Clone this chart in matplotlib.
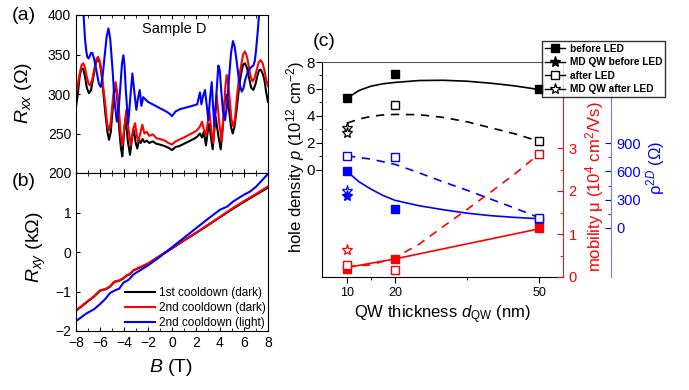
import matplotlib
matplotlib.use("Agg")
import matplotlib.pyplot as plt
from matplotlib.lines import Line2D

plt.rcParams['font.family'] = ['Liberation Sans', 'DejaVu Sans']
plt.rcParams['mathtext.fontset'] = 'custom'
plt.rcParams['mathtext.rm'] = 'Liberation Sans'
plt.rcParams['mathtext.it'] = 'Liberation Sans:italic'
plt.rcParams['mathtext.bf'] = 'Liberation Sans:bold'
plt.rcParams['lines.solid_joinstyle'] = 'round'

# ---------------- Panel (a): Rxx vs B ----------------
B_black = [-8.0, -7.85, -7.7, -7.55, -7.4, -7.25, -7.1, -6.92, -6.75, -6.55, -6.35, -6.17, -6.0, -5.85,
           -5.55, -5.38, -5.25, -5.1, -4.95, -4.82, -4.7, -4.58, -4.42, -4.26, -4.14,
           -3.98, -3.86, -3.68, -3.5, -3.3, -3.17, -3.02, -2.89, -2.75, -2.6, -2.45, -2.3, -2.1, -1.9, -1.6,
           -1.3, -1.0, -0.6, -0.3, 0.0, 0.3, 0.6, 1.0, 1.4, 1.8, 2.1, 2.33, 2.5, 2.65, 2.83, 3.0, 3.11, 3.25,
           3.39, 3.52, 3.64, 3.85, 4.06, 4.25, 4.38, 4.5, 4.62, 4.75, 4.92, 5.06, 5.2, 5.4, 5.6, 5.75, 5.92,
           6.08, 6.25, 6.4, 6.6, 6.78, 6.95, 7.1, 7.25, 7.39, 7.55, 7.7, 7.85, 8.0]
R_black = [284, 300, 322, 332, 332, 322, 308, 301, 305, 322, 339, 345, 339, 322,
           275, 252, 242, 252, 280, 302, 311, 300, 260, 232, 221,
           255, 270, 240, 223, 248, 254, 238, 231, 242, 238, 243, 239, 241, 238, 240,
           237, 236, 234, 232, 229, 233, 234, 237, 240, 243, 246, 250, 245, 252, 235, 255, 262, 245,
           230, 255, 271, 248, 230, 262, 288, 299, 295, 280, 258, 250, 258, 282, 310, 325, 337,
           339, 333, 322, 308, 305, 312, 322, 330, 331, 326, 318, 302, 290]

B_red = [-8.0, -7.85, -7.7, -7.55, -7.39, -7.25, -7.1, -6.95, -6.83, -6.65, -6.5, -6.33, -6.17, -6.03,
         -5.9, -5.7, -5.55, -5.4, -5.25, -5.1, -4.95, -4.82, -4.7, -4.58, -4.4, -4.27, -4.14, -3.8,
         -3.62, -3.44, -3.25, -3.08, -2.9, -2.8, -2.65, -2.47, -2.3, -2.1, -1.9, -1.6, -1.3, -1.0, -0.6, -0.3,
         0.0, 0.3, 0.7, 1.0, 1.5, 2.0, 2.3, 2.5, 2.65, 2.83, 3.11, 3.27, 3.44, 3.58, 3.72, 3.93, 4.14, 4.35,
         4.45, 4.56, 4.67, 4.8, 4.95, 5.11, 5.25, 5.4, 5.6, 5.75, 5.92, 6.08, 6.25, 6.4, 6.55, 6.72, 6.88,
         7.05, 7.22, 7.39, 7.55, 7.7, 7.85, 8.0]
R_red = [299, 312, 325, 336, 339, 333, 322, 313, 311, 318, 330, 343, 347, 342,
         330, 305, 285, 262, 254, 265, 290, 308, 315, 303, 275, 248, 235, 280,
         255, 235, 255, 263, 245, 240, 250, 261, 250, 252, 247, 249, 244, 243, 241, 238,
         236, 240, 243, 245, 249, 253, 258, 265, 255, 248, 278, 255, 238, 265, 299, 265, 240, 285,
         310, 324, 315, 295, 268, 259, 268, 295, 322, 335, 350, 354, 347, 335, 322, 316, 320,
         330, 340, 343, 339, 330, 318, 310]

B_blue = [-7.45, -7.35, -7.25, -7.15, -7.06, -6.95, -6.85, -6.75, -6.64, -6.5, -6.3, -6.1, -5.94, -5.8,
          -5.6, -5.45, -5.3, -5.15, -4.95, -4.78, -4.6, -4.45, -4.3, -4.17, -4.05, -3.95, -3.85, -3.65,
          -3.45, -3.3, -3.12, -2.97, -2.83, -2.69, -2.55, -2.4, -2.2, -2.0, -1.5, -1.0, -0.5, -0.2, 0.0,
          0.3, 0.7, 1.2, 1.7, 2.1, 2.33, 2.45, 2.6, 2.75, 2.9, 3.03, 3.17, 3.31, 3.42, 3.53, 3.7, 3.86,
          3.98, 4.1, 4.25, 4.42, 4.58, 4.75, 4.92, 5.08, 5.22, 5.4, 5.6, 5.81, 5.95, 6.1, 6.36, 6.6, 6.78,
          6.9, 7.0, 7.15, 7.25, 7.35]
R_blue = [430, 395, 370, 355, 347, 345, 348, 352, 352, 345, 330, 313, 309, 320,
          350, 372, 383, 370, 330, 290, 265, 280, 310, 338, 349, 335, 305, 262,
          300, 326, 300, 280, 295, 305, 285, 296, 293, 290, 286, 282, 278, 275, 272,
          278, 281, 283, 285, 287, 302, 287, 298, 305, 285, 267, 295, 315, 285, 259, 300, 336,
          330, 305, 278, 267, 285, 320, 352, 367, 360, 340, 315, 303, 307, 318, 330, 334, 336,
          342, 355, 380, 400, 430]

# ---------------- Panel (b): Rxy vs B ----------------
B_xy_red = [-8, -7.1, -6.5, -6, -5.5, -5.17, -4.9, -4.75, -4.4, -4.06, -3.78, -3.5, -3.22, -2, -1, 0,
            1, 2, 3, 4, 5, 6, 7, 8]
Rxy_red = [-1.48, -1.26, -1.12, -0.97, -0.93, -0.87, -0.78, -0.74, -0.72, -0.66, -0.59, -0.55, -0.46,
           -0.29, -0.09, 0.10, 0.30, 0.49, 0.69, 0.89, 1.10, 1.29, 1.47, 1.66]
B_xy_black = [-8, -7.1, -6.5, -6, -5.5, -5.17, -4.9, -4.75, -4.4, -4.06, -3.78, -3.5, -3.22, -2, -1, 0,
              1, 2, 3, 4, 5, 6, 7, 8]
Rxy_black = [-1.49, -1.27, -1.13, -0.98, -0.94, -0.88, -0.79, -0.75, -0.73, -0.67, -0.60, -0.56, -0.47,
             -0.30, -0.10, 0.09, 0.29, 0.48, 0.68, 0.88, 1.08, 1.27, 1.45, 1.63]
B_xy_blue = [-8, -7.1, -6.5, -6, -5.5, -5.17, -4.75, -4.4, -4.06, -3.6, -3.22, -2, -1, 0, 1, 2, 3, 4,
             4.6, 5.1, 6, 6.5, 7, 8]
Rxy_blue = [-1.75, -1.55, -1.45, -1.32, -1.17, -1.04, -0.97, -0.93, -0.78, -0.70, -0.57, -0.34, -0.12,
            0.12, 0.36, 0.60, 0.84, 1.07, 1.15, 1.28, 1.45, 1.53, 1.65, 1.98]
legend_b = ["1st cooldown (dark)", "2nd cooldown (dark)", "2nd cooldown (light)"]

# ---------------- Panel (c) ----------------
d = [10, 20, 50]
p_before = [5.3, 7.1, 6.0]
d_after = [20, 50]
p_after = [4.8, 2.1]
d_star_p = [10, 10]
p_star_after = [3.1, 2.7]

d_fit = [10, 12.5, 15, 17.5, 20, 25, 30, 35, 40, 45, 50]
p_fit_before = [5.3, 5.88, 6.2, 6.38, 6.48, 6.62, 6.64, 6.57, 6.42, 6.22, 5.95]
p_fit_after = [3.45, 3.75, 3.95, 4.06, 4.1, 4.08, 3.88, 3.55, 3.1, 2.65, 2.1]

mu_before = [0.19, 0.42, 1.13]
mu_after = [0.28, 0.17, 2.86]
mu_star_after = [0.62]
mu_line_before = [0.22, 0.42, 1.12]
d_fit2 = [10, 15, 20, 25, 30, 35, 40, 45, 50]
mu_fit_after = [0.25, 0.28, 0.45, 0.76, 1.17, 1.57, 1.98, 2.4, 2.86]

rho_before = [599, 201, 80]
rho_after = [765, 755, 106]
rho_star_before = [335]
rho_star_after = [388]
rho_fit_before = [600, 490, 412, 345, 293, 236, 194, 157, 130, 112, 98]
rho_fit_after = [765, 730, 675, 585, 490, 400, 305, 210, 110]

legend_c = ["before LED", "MD QW before LED", "after LED", "MD QW after LED"]

W, H = 689, 390
fig = plt.figure(figsize=(W / 100, H / 100), dpi=100)

def rect(x0, y0, x1, y1):
    return [x0 / W, 1 - y1 / H, (x1 - x0) / W, (y1 - y0) / H]

def ftext(x, y, s, **kw):
    fig.text(x / W, 1 - y / H, s, **kw)

RED = '#ff0000'
BLUE = '#0000ff'

# ---- (a)
axa = fig.add_axes(rect(76, 15, 268, 173))
axa.plot(B_black, R_black, color='black', lw=1.5)
axa.plot(B_red, R_red, color=RED, lw=1.5)
axa.plot(B_blue, R_blue, color=BLUE, lw=1.5)
axa.set_xlim(-8, 8)
axa.set_ylim(200, 400)
axa.set_yticks([200, 250, 300, 350, 400])
axa.set_xticks(range(-8, 9, 2))
axa.set_xticks(range(-8, 9, 1), minor=True)
axa.set_xticklabels([])
axa.tick_params(axis='both', which='both', direction='in', top=True, labelsize=10)
axa.tick_params(axis='y', which='major', length=3)
axa.tick_params(axis='x', which='major', length=3)
axa.tick_params(axis='x', which='minor', length=2)

# ---- (b)
axb = fig.add_axes(rect(76, 173, 268, 331))
axb.plot(B_xy_black, Rxy_black, color='black', lw=1.5, label=legend_b[0])
axb.plot(B_xy_red, Rxy_red, color=RED, lw=1.5, label=legend_b[1])
axb.plot(B_xy_blue, Rxy_blue, color=BLUE, lw=1.5, label=legend_b[2])
axb.set_xlim(-8, 8)
axb.set_ylim(-2, 2)
axb.set_yticks([-2, -1, 0, 1])
axb.set_xticks(range(-8, 9, 2))
axb.set_xticks(range(-8, 9, 1), minor=True)
axb.tick_params(axis='both', which='both', direction='in', top=True, labelsize=10)
axb.tick_params(axis='both', which='major', length=3)
axb.tick_params(axis='x', which='minor', length=2)
axb.legend(loc='lower right', frameon=False, fontsize=8.5, handlelength=2.6, handletextpad=0.3,
           labelspacing=0.25, borderaxespad=0.1, borderpad=0.1)

ftext(24, 93, r'$R_{xx}$ ($\Omega$)', rotation=90, ha='center', va='center', fontsize=14)
ftext(36, 247, r'$R_{xy}$ (k$\Omega$)', rotation=90, ha='center', va='center', fontsize=14)
ftext(171, 368, r'$B$ (T)', ha='center', va='center', fontsize=14)
ftext(24, 16, '(a)', ha='center', va='center', fontsize=14)
ftext(24, 182, '(b)', ha='center', va='center', fontsize=14)
ftext(174, 29, 'Sample D', ha='center', va='center', fontsize=10.5)

# ---- (c)
axc = fig.add_axes(rect(322, 62, 563, 277))
axc.plot(d_fit, p_fit_before, color='black', lw=1.2)
axc.plot(d_fit, p_fit_after, color='black', lw=1.2, ls=(0, (5, 4)))
axc.plot(d, p_before, 's', color='black', ms=6)
axc.plot(d_after, p_after, 's', mfc='white', mec='black', ms=6, mew=1)
axc.plot(d_star_p, p_star_after, '*', mfc='white', mec='black', ms=8, mew=0.9)
axc.set_xlim(4.8, 55)
axc.set_ylim(-8, 8)
axc.set_yticks([0, 2, 4, 6, 8])
axc.set_yticks([1, 3, 5, 7], minor=True)
axc.set_xticks([10, 20, 50])
axc.set_xticks([15, 35], minor=True)
axc.spines['right'].set_visible(False)
axc.spines['top'].set_color('#555555')
axc.tick_params(axis='y', which='major', labelsize=11, length=4, pad=1)
axc.tick_params(axis='y', which='minor', length=2)
axc.tick_params(axis='x', which='major', labelsize=9, length=4)
axc.tick_params(axis='x', which='minor', length=2)

axr = axc.twinx()
axr.plot(d, mu_line_before, color=RED, lw=1.2)
axr.plot(d_fit2, mu_fit_after, color=RED, lw=1.2, ls=(0, (5, 4)))
axr.set_ylim(0, 5)
axr.set_yticks([0, 1, 2, 3])
axr.set_yticks([0.5, 1.5, 2.5], minor=True)
for s in ['left', 'top', 'bottom']:
    axr.spines[s].set_visible(False)
axr.spines['right'].set_color('#cc2222')
axr.tick_params(axis='y', which='both', direction='in', colors=RED, labelsize=10.5)
axr.tick_params(axis='y', which='major', length=4, pad=4)
axr.tick_params(axis='y', which='minor', length=2)
axr.spines['right'].set_color('#cc2222')

axbl = axc.twinx()
axbl.plot(d_fit, rho_fit_before, color=BLUE, lw=1.2)
axbl.plot(d_fit2, rho_fit_after, color=BLUE, lw=1.2, ls=(0, (5, 4)))
axbl.plot(d, rho_before, 's', color=BLUE, ms=6)
axbl.plot(d, rho_after, 's', mfc='white', mec=BLUE, ms=6, mew=1)
axbl.plot([10], rho_star_after, '*', mfc='white', mec=BLUE, ms=8, mew=0.9)
axbl.plot([10], rho_star_before, '*', color=BLUE, ms=8)
axbl.set_ylim(-520, 1760)
axbl.set_yticks([0, 300, 600, 900])
axbl.set_yticks([150, 450, 750], minor=True)
for s in ['left', 'top', 'bottom']:
    axbl.spines[s].set_visible(False)
axbl.spines['right'].set_position(('axes', 48 / 241 + 1))
axbl.spines['right'].set_color('#7777ff')
axbl.tick_params(axis='y', which='both', direction='in', colors=BLUE, labelsize=10.5)
axbl.tick_params(axis='y', which='major', length=4, pad=4)
axbl.tick_params(axis='y', which='minor', length=2)

# red markers on top
axr.plot(d, mu_before, 's', color=RED, ms=6)
axr.plot(d, mu_after, 's', mfc='white', mec=RED, ms=6, mew=1)
axr.plot([10], mu_star_after, '*', mfc='white', mec=RED, ms=8, mew=0.9)
axr.set_zorder(axbl.get_zorder() + 1)
axr.patch.set_visible(False)

handles = [
    Line2D([], [], color='black', lw=1, marker='s', ms=6),
    Line2D([], [], color='black', lw=1, marker='*', ms=8),
    Line2D([], [], color='black', lw=1, marker='s', mfc='white', ms=6),
    Line2D([], [], color='black', lw=1, marker='*', mfc='white', ms=8, mew=0.9),
]
leg = fig.legend(handles, legend_c, loc='upper left', bbox_to_anchor=(542 / W, 1 - 41 / H),
                 prop={'weight': 'bold', 'size': 7.3}, frameon=True, fancybox=False,
                 edgecolor='black', handlelength=2.0, handletextpad=0.5, labelspacing=0.35,
                 borderpad=0.25, borderaxespad=0)
leg.get_frame().set_linewidth(1.0)
leg.set_zorder(10)

ftext(296, 157, r'hole density $p$ (10$^{12}$ cm$^{-2}$)', rotation=90, ha='center', va='center', fontsize=12)
ftext(595, 187, r'mobility μ (10$^{4}$ cm$^{2}$/Vs)', rotation=90, ha='center', va='center', fontsize=12,
      color=RED)
ftext(656, 168, r'ρ$^{2D}$ (Ω)', rotation=90, ha='center', va='center', fontsize=12, color=BLUE)
ftext(442, 315, r'QW thickness $d_{\rm QW}$ (nm)', ha='center', va='center', fontsize=12)
ftext(324, 41, '(c)', ha='center', va='center', fontsize=14)

fig.savefig('out.png', dpi=100)
